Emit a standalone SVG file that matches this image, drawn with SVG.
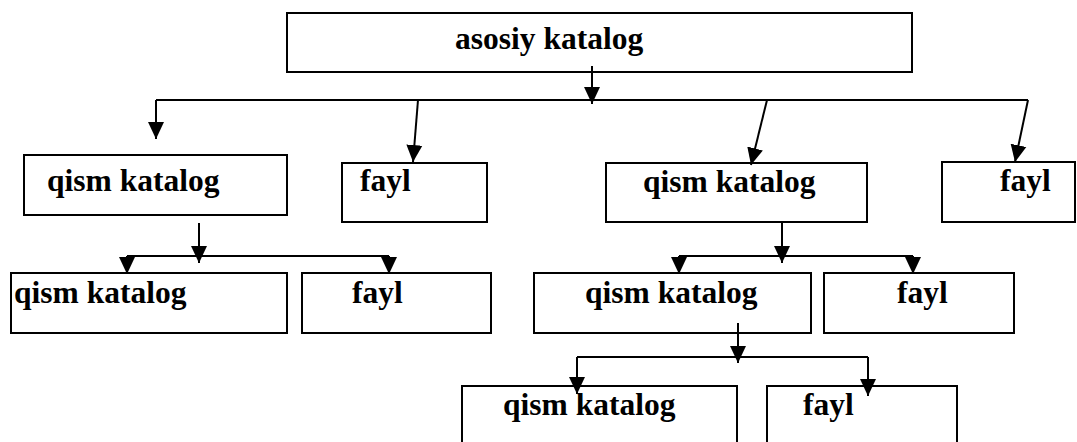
<svg xmlns="http://www.w3.org/2000/svg" width="1077" height="442" viewBox="0 0 1077 442">
<style>
.box{fill:#fff;stroke:#000;stroke-width:2}
.lbl{font-family:"Liberation Serif","Times New Roman",serif;font-weight:bold;font-size:31.5px;fill:#000}
.c{stroke:#000;stroke-width:2;fill:none}
.a{marker-end:url(#ah)}
</style>
<defs>
<marker id="ah" markerUnits="userSpaceOnUse" markerWidth="18" markerHeight="18" refX="17" refY="9" orient="auto">
<path d="M0,1 L17,9 L0,17 Z" fill="#000"/>
</marker>
</defs>
<rect width="1077" height="442" fill="#fff"/>
<g id="root"><rect class="box" x="287" y="13" width="625" height="59"/><text class="lbl" x="455" y="49">asosiy katalog</text></g>
<g id="qk1"><rect class="box" x="24" y="155" width="263" height="60"/><text class="lbl" x="47" y="191">qism katalog</text></g>
<g id="fayl1"><rect class="box" x="342" y="163" width="145" height="59"/><text class="lbl" x="360" y="191">fayl</text></g>
<g id="qk2"><rect class="box" x="606" y="163" width="261" height="59"/><text class="lbl" x="643" y="192">qism katalog</text></g>
<g id="fayl2"><rect class="box" x="942" y="162" width="133" height="60"/><text class="lbl" x="1000" y="191">fayl</text></g>
<g id="qk3"><rect class="box" x="11" y="273" width="276" height="60"/><text class="lbl" x="14" y="303">qism katalog</text></g>
<g id="fayl3"><rect class="box" x="302" y="273" width="189" height="60"/><text class="lbl" x="352" y="303">fayl</text></g>
<g id="qk4"><rect class="box" x="534" y="273" width="277" height="60"/><text class="lbl" x="585" y="303">qism katalog</text></g>
<g id="fayl4"><rect class="box" x="824" y="273" width="190" height="60"/><text class="lbl" x="897" y="303">fayl</text></g>
<g id="qk5"><rect class="box" x="462" y="386" width="275" height="70"/><text class="lbl" x="503" y="415">qism katalog</text></g>
<g id="fayl5"><rect class="box" x="767" y="386" width="190" height="70"/><text class="lbl" x="803" y="415">fayl</text></g>
<g id="connectors">
<line class="c a" x1="592" y1="66" x2="592" y2="104"/>
<line class="c" x1="156" y1="100" x2="1028" y2="100"/>
<line class="c a" x1="156" y1="100" x2="156" y2="139"/>
<line class="c a" x1="418" y1="100" x2="413" y2="162"/>
<line class="c a" x1="767" y1="100" x2="751" y2="165"/>
<line class="c a" x1="1028" y1="100" x2="1015" y2="162"/>
<line class="c a" x1="199" y1="223" x2="199" y2="263"/>
<line class="c" x1="127" y1="256" x2="389" y2="256"/>
<line class="c a" x1="127" y1="256" x2="127" y2="274"/>
<line class="c a" x1="389" y1="256" x2="389" y2="274"/>
<line class="c a" x1="782" y1="222" x2="782" y2="263"/>
<line class="c" x1="679" y1="256" x2="913" y2="256"/>
<line class="c a" x1="679" y1="256" x2="679" y2="274"/>
<line class="c a" x1="913" y1="256" x2="913" y2="274"/>
<line class="c a" x1="738" y1="323" x2="738" y2="363"/>
<line class="c" x1="577" y1="357" x2="868" y2="357"/>
<line class="c a" x1="577" y1="357" x2="577" y2="394"/>
<line class="c a" x1="868" y1="357" x2="868" y2="396"/>
</g>
</svg>
